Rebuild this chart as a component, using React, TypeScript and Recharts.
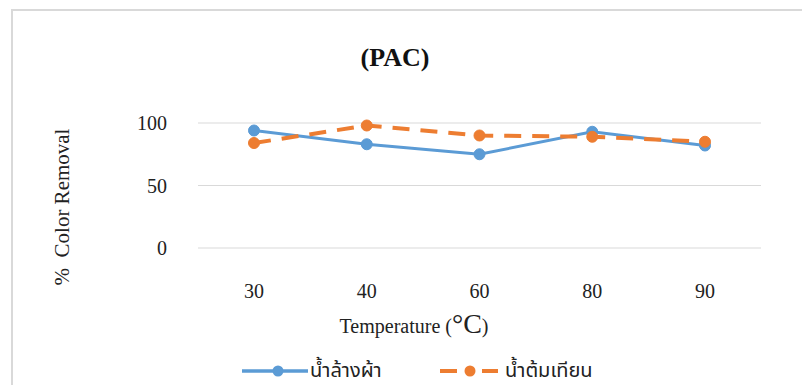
import React from 'react';
import { LineChart, Line, XAxis, YAxis, CartesianGrid } from 'recharts';

const categories = ['30', '40', '60', '80', '90'];
const washWater = [94, 83, 75, 93, 82];
const candleWater = [84, 98, 90, 89, 85];
const yTicks = [0, 50, 100];
const seriesNames = ['น้ำล้างผ้า', 'น้ำต้มเทียน'];
const seriesColors = ['#5B9BD5', '#ED7D31'];
const titleText = '(PAC)';
const yLabel = '%  Color Removal';
const xLabel = 'Temperature (';

const data = categories.map((c, i) => ({ t: c, a: washWater[i], b: candleWater[i] }));

const SERIF = "'Liberation Serif', 'Times New Roman', serif";
const THAI = "'Noto Sans Thai', 'Noto Sans Thai Looped', 'Tahoma', 'DejaVu Sans', 'Noto Sans', sans-serif";

const W = 802;
const H = 377;

const XTick = (props: any) => {
  const { x, y, payload } = props;
  return (
    <text x={x} y={y + 50} textAnchor="middle" fontFamily={SERIF} fontSize={20} fill="#222">
      {payload.value}
    </text>
  );
};

const YLab = () => (
  <text
    x={54}
    y={199}
    transform="rotate(-90, 54, 199)"
    textAnchor="middle"
    dominantBaseline="central"
    fontFamily={SERIF}
    fontSize={21}
    fill="#222"
    style={{ whiteSpace: 'pre' }}
  >
    {yLabel}
  </text>
);

export default function App() {
  return (
    <div style={{ position: 'relative', width: W, height: H, background: '#fff' }}>
      <div
        style={{
          position: 'absolute',
          left: 3,
          top: 1,
          width: W - 3,
          height: H - 1,
          borderTop: '2px solid #d9d9d9',
          borderLeft: '2px solid #d9d9d9',
          boxSizing: 'border-box',
        }}
      />
      <div style={{ position: 'absolute', left: 0, top: 0 }}>
        <LineChart width={W} height={H} data={data} margin={{ top: 115, right: 49, bottom: 87, left: 130 }}>
          <CartesianGrid vertical={false} stroke="#d9d9d9" strokeWidth={1.2} />
          <XAxis
            dataKey="t"
            height={50}
            axisLine={false}
            tickLine={false}
            tickSize={0}
            tickMargin={0}
            padding={{ left: 56, right: 56 }}
            tick={<XTick />}
            interval={0}
          />
          <YAxis
            width={60}
            domain={[0, 100]}
            ticks={yTicks}
            axisLine={false}
            tickLine={false}
            tickSize={0}
            tickMargin={31}
            tick={{ fontFamily: SERIF, fontSize: 20, fill: '#222' }}
            label={<YLab />}
          />
          <Line
            dataKey="a"
            stroke={seriesColors[0]}
            strokeWidth={3}
            dot={{ r: 5.5, fill: seriesColors[0], stroke: seriesColors[0], strokeWidth: 1 }}
            isAnimationActive={false}
          />
          <Line
            dataKey="b"
            stroke={seriesColors[1]}
            strokeWidth={4}
            strokeDasharray="17 11"
            dot={{ r: 5.5, fill: seriesColors[1], stroke: seriesColors[1], strokeWidth: 1, strokeDasharray: '0' }}
            isAnimationActive={false}
          />
        </LineChart>
      </div>
      <svg
        width={W}
        height={H}
        style={{ position: 'absolute', left: 0, top: 0, pointerEvents: 'none' }}
      >
        <text x={387} y={58} textAnchor="middle" fontFamily={SERIF} fontWeight="bold" fontSize={26} fill="#111">
          {titleText}
        </text>
        <text x={406} y={325} textAnchor="middle" fontFamily={SERIF} fontSize={20} fill="#222">
          {xLabel}
          <tspan fontSize={28}>°C</tspan>
          )
        </text>
        <line x1={234} y1={363} x2={300} y2={363} stroke={seriesColors[0]} strokeWidth={3.5} />
        <circle cx={270} cy={363} r={5.5} fill={seriesColors[0]} />
        <text x={302} y={369} fontFamily={THAI} fontSize={20} fill="#222">
          {seriesNames[0]}
        </text>
        <line x1={432} y1={363} x2={449} y2={363} stroke={seriesColors[1]} strokeWidth={4} />
        <line x1={474} y1={363} x2={490} y2={363} stroke={seriesColors[1]} strokeWidth={4} />
        <circle cx={462} cy={363} r={5.5} fill={seriesColors[1]} />
        <text x={497} y={369} fontFamily={THAI} fontSize={20} fill="#222">
          {seriesNames[1]}
        </text>
      </svg>
    </div>
  );
}
